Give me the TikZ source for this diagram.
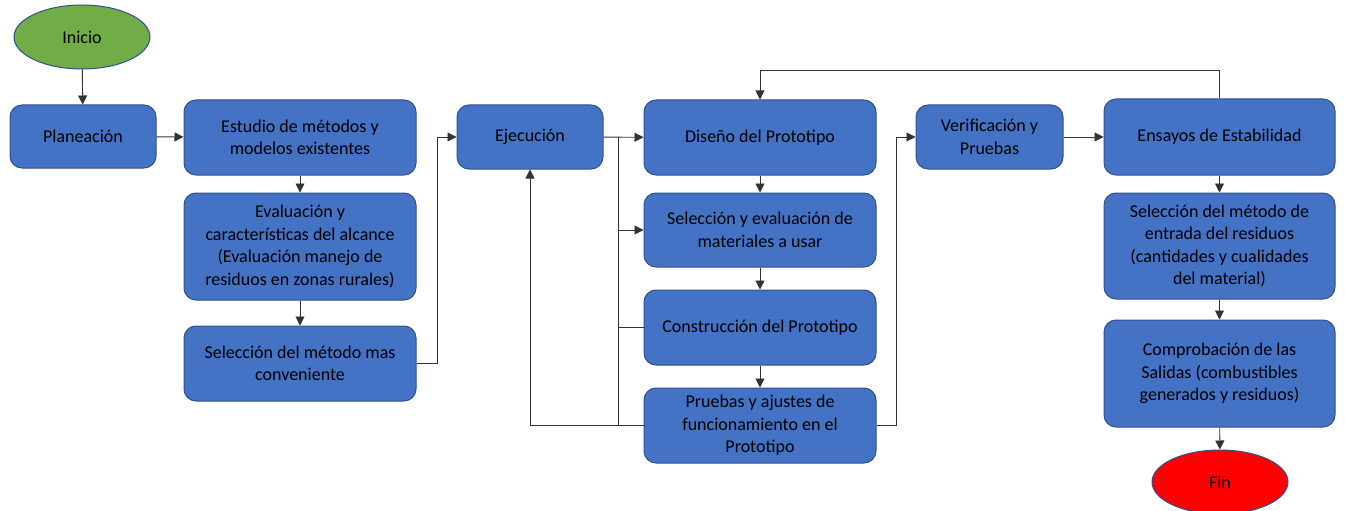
\documentclass[tikz,border=0pt]{standalone}
\usepackage{fontspec}
\setmainfont{Carlito}
\usetikzlibrary{arrows.meta,shapes.geometric}
\definecolor{boxblue}{HTML}{4472C4}
\definecolor{edgeblue}{HTML}{2F528F}
\definecolor{startgreen}{HTML}{70AD47}
\definecolor{endred}{HTML}{FF0000}
\tikzset{
  box/.style={draw=edgeblue, fill=boxblue, line width=1pt, rounded corners=12pt,
    align=center, inner sep=0pt, font=\fontsize{18}{22.5}\selectfont, text=black},
  term/.style={ellipse, draw=edgeblue, line width=1pt, minimum width=136pt, minimum height=64pt,
    inner sep=0pt, font=\fontsize{18}{22.5}\selectfont, text=black},
  conn/.style={line width=0.9pt, draw=black!80},
  arr/.style={conn, -{Triangle[length=9pt,width=9pt]}}
}
\begin{document}
\begin{tikzpicture}[x=1pt,y=-1pt]
\useasboundingbox (0,0) rectangle (1345,511);
% terminals
\node[term, fill=startgreen] (ini) at (82,37) {Inicio};
\node[term, fill=endred] (fin) at (1220,482) {Fin};
% column 1
\node[box, minimum width=146pt, minimum height=63pt] (plan) at (83,136.5) {Planeación};
% column 2
\node[box, minimum width=232pt, minimum height=75pt] (est) at (300,137.5) {Estudio de métodos y\\modelos existentes};
\node[box, minimum width=232pt, minimum height=107pt] (eva) at (300,246.5) {Evaluación y\\características del alcance\\(Evaluación manejo de\\residuos en zonas rurales)};
\node[box, minimum width=232pt, minimum height=75pt] (selm) at (300,363.5) {Selección del método mas\\conveniente};
% column 3
\node[box, minimum width=146pt, minimum height=64pt] (eje) at (530,137) {Ejecución};
% column 4
\node[box, minimum width=232pt, minimum height=75pt] (dis) at (760,137.5) {Diseño del Prototipo};
\node[box, minimum width=232pt, minimum height=74pt] (sele) at (760,230) {Selección y evaluación de\\materiales a usar};
\node[box, minimum width=232pt, minimum height=75pt] (cons) at (760,327.5) {Construcción del Prototipo};
\node[box, minimum width=232pt, minimum height=75pt] (prue) at (760,425.5) {Pruebas y ajustes de\\funcionamiento en el\\Prototipo};
% column 5
\node[box, minimum width=147pt, minimum height=64pt] (ver) at (989.5,137) {Verificación y\\Pruebas};
% column 6
\node[box, minimum width=231pt, minimum height=76pt] (ens) at (1219.5,137) {Ensayos de Estabilidad};
\node[box, minimum width=231pt, minimum height=106pt] (entr) at (1219.5,246) {Selección del método de\\entrada del residuos\\(cantidades y cualidades\\del material)};
\node[box, minimum width=231pt, minimum height=107pt] (comp) at (1219.5,373.5) {Comprobación de las\\Salidas (combustibles\\generados y residuos)};
% helper coordinates
\coordinate (bus) at (618,137);
\coordinate (busbot) at (618,425.5);
% connectors
\draw[arr] (ini) -- (plan);
\draw[arr] (plan) -- (est);
\draw[arr] (est) -- (eva);
\draw[arr] (eva) -- (selm);
\draw[arr] (selm.east) -- ++(21,0) |- (eje.west);
\draw[arr] (eje) -- (dis);
\draw[conn] (bus) -- (busbot);
\draw[arr] (bus |- sele.west) -- (sele.west);
\draw[conn] (cons.west) -- (bus |- cons.west);
\draw[arr] (prue.west) -| (eje.south);
\draw[arr] (dis) -- (sele);
\draw[arr] (sele) -- (cons);
\draw[arr] (cons) -- (prue);
\draw[arr] (prue.east) -- ++(20,0) |- (ver.west);
\draw[arr] (ver) -- (ens);
\draw[arr] (ens.north) -- ++(0,-28) -| (dis.north);
\draw[arr] (ens) -- (entr);
\draw[arr] (entr) -- (comp);
\draw[arr] (comp) -- (fin);
\end{tikzpicture}
\end{document}
